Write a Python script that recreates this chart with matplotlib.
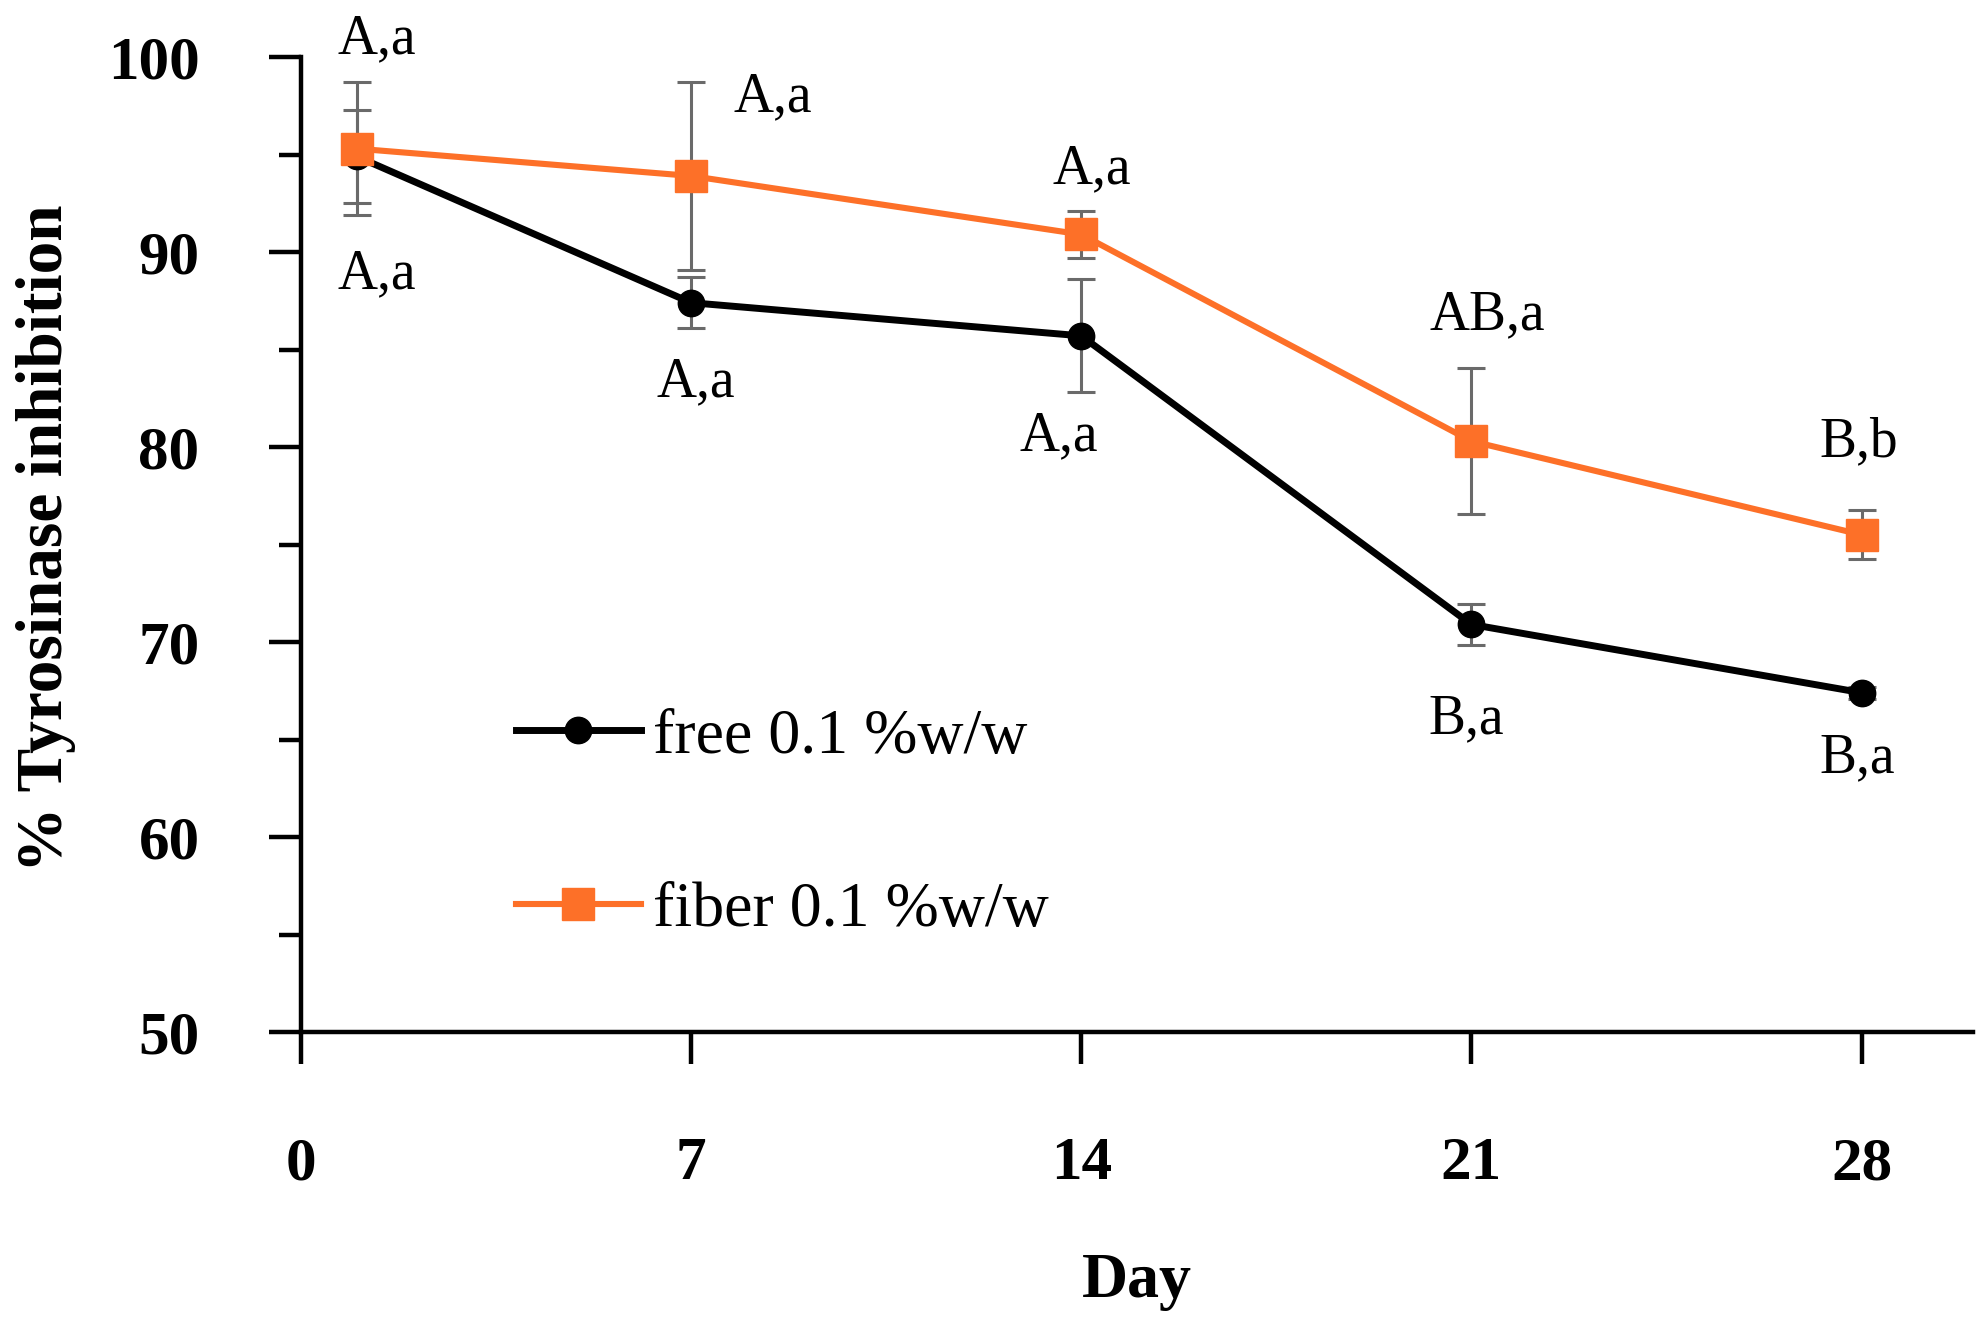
import matplotlib
matplotlib.use("Agg")
import matplotlib.pyplot as plt
from matplotlib.ticker import MultipleLocator

# ── Data ─────────────────────────────────────────────────────────────────────
days = [1, 7, 14, 21, 28]

free_mean = [94.9, 87.4, 85.7, 70.9, 67.4]
free_err  = [2.4, 1.3, 2.9, 1.05, 0.3]

fiber_mean = [95.3, 93.9, 90.9, 80.3, 75.5]
fiber_err  = [3.4, 4.8, 1.2, 3.75, 1.25]

# significance letters: (x, y, text)
free_labels_x  = [1.36, 7.09, 13.6, 20.91, 27.92]
free_labels_y  = [88.15, 82.6, 79.85, 65.3, 63.3]
free_labels    = ["A,a", "A,a", "A,a", "B,a", "B,a"]

fiber_labels_x = [1.36, 8.47, 14.19, 21.28, 27.95]
fiber_labels_y = [100.2, 97.2, 93.5, 86.05, 79.5]
fiber_labels   = ["A,a", "A,a", "A,a", "AB,a", "B,b"]

xticks      = [0, 7, 14, 21, 28]
xticklabels = ["0", "7", "14", "21", "28"]

# ── Style ────────────────────────────────────────────────────────────────────
plt.rcParams["font.family"] = ["Liberation Serif", "DejaVu Serif"]

ORANGE = "#FD7028"
ERR    = "#6a6a6a"

fig = plt.figure(figsize=(19.8, 13.25), dpi=100)
ax = fig.add_axes([301 / 1980, 1 - 1032 / 1325,
                   (1973 - 301) / 1980, (1032 - 57) / 1325])

# error bars underneath the lines
ax.errorbar(days, free_mean, yerr=free_err, fmt="none", ecolor=ERR,
            elinewidth=2.2, capsize=10, capthick=2.2, zorder=2)
ax.errorbar(days, fiber_mean, yerr=fiber_err, fmt="none", ecolor=ERR,
            elinewidth=2.2, capsize=10, capthick=2.2, zorder=2)

ax.plot(days, free_mean, color="black", lw=5.0, marker="o", ms=19,
        mfc="black", mec="black", label="free 0.1 %w/w", zorder=3)
ax.plot(days, fiber_mean, color=ORANGE, lw=4.4, marker="s", ms=23,
        mfc=ORANGE, mec=ORANGE, label="fiber 0.1 %w/w", zorder=4)

for x, y, t in zip(free_labels_x, free_labels_y, free_labels):
    ax.text(x, y, t, ha="center", va="baseline", fontsize=40, zorder=5)
for x, y, t in zip(fiber_labels_x, fiber_labels_y, fiber_labels):
    ax.text(x, y, t, ha="center", va="baseline", fontsize=40, zorder=5)

# ── Axes ─────────────────────────────────────────────────────────────────────
ax.set_xlim(0, 30)
ax.set_ylim(50, 100)

for side in ("top", "right"):
    ax.spines[side].set_visible(False)
for side in ("left", "bottom"):
    ax.spines[side].set_linewidth(3.2)

ax.set_xticks(xticks)
ax.set_xticklabels(xticklabels)
ax.yaxis.set_major_locator(MultipleLocator(10))
ax.yaxis.set_minor_locator(MultipleLocator(5))

ax.tick_params(axis="x", which="major", direction="out", length=23, width=3.2,
               pad=52, labelsize=44)
ax.tick_params(axis="y", which="major", direction="out", length=23, width=3.2,
               pad=50, labelsize=44)
ax.tick_params(axis="y", which="minor", direction="out", length=16, width=3.2)
for lbl in ax.get_xticklabels() + ax.get_yticklabels():
    lbl.set_fontweight("bold")

ax.set_xlabel("Day", fontsize=46, fontweight="bold", va="baseline")
ax.xaxis.set_label_coords(0.5, (1032 - 1297) / 975)
ax.set_ylabel("% Tyrosinase inhibition", fontsize=47, fontweight="bold",
              va="center")
ax.yaxis.set_label_coords((46 - 301) / 1672, (1032 - 538) / 975)

ax.legend(loc="upper left", bbox_to_anchor=((516 - 301) / 1672, (1032 - 708) / 975),
          frameon=False, fontsize=46, borderpad=0, borderaxespad=0,
          handlelength=1.95, handletextpad=0.2, labelspacing=1.8)

fig.savefig("out.png", dpi=100)
